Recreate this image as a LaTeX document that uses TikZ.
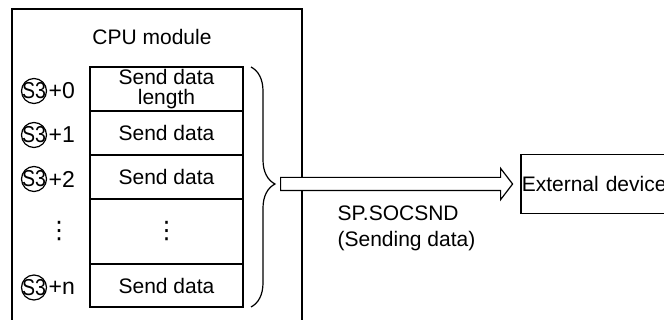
\documentclass[tikz,border=0pt]{standalone}
\usepackage{fontspec}
\setmainfont{Liberation Sans}
\newfontfamily\symfont{DejaVu Sans}
\usetikzlibrary{calc,positioning,shapes.arrows,decorations.pathreplacing}

\begin{document}
\begin{tikzpicture}[x=0.5pt, y=-0.5pt, line width=0.6pt,
  every node/.style={font=\fontsize{10.5}{10}\selectfont},
  cell/.style={draw, minimum width=76.5pt, inner sep=0pt, outer sep=0pt, align=center},
  sref/.style={circle, draw, inner sep=0pt, minimum size=12.5pt},
  stext/.style={inner sep=0pt, font=\fontsize{11.5}{11.5}\selectfont},
  vdot/.style={inner sep=0pt, font=\symfont\fontsize{12}{12}\selectfont},
  sendarrow/.style={single arrow, draw, fill=white, inner xsep=0pt, inner ysep=3pt,
    minimum height=116pt, single arrow head extend=4.5pt,
    single arrow tip angle=105, anchor=tail}]

\useasboundingbox (0,0) rectangle (664,320);

% CPU module frame (open at the bottom)
\draw (12,322) |- (302,9) -- (302,322);
\node (cpu) at (152,37) {CPU module};

% send data area
\node[cell, minimum height=22pt, anchor=north west] (len) at (90,67) {Send data\\length};
\node[cell, minimum height=22pt, below=0pt of len] (d1) {Send data};
\node[cell, minimum height=22pt, below=0pt of d1] (d2) {Send data};
\node[cell, minimum height=32.5pt, below=0pt of d2] (dots) {};
\node[cell, minimum height=21.5pt, below=0pt of dots] (dn) {Send data};
\node[vdot] (mdots) at (dots.center) {⋮};

% device numbers
\foreach \row/\idx in {len/0, d1/1, d2/2, dn/n}{
  \node[sref] (s\idx) at ($(\row.west)+(-56,2)$) {};
  \node[stext] (t\idx) at (s\idx.center) {\scalebox{0.85}[1]{S3}};
  \node[stext, anchor=west] (o\idx) at ($(s\idx.east)+(1,0)$) {+\idx};
}
\node[vdot] (ldots) at ($(dots.west)+(-31,0)$) {⋮};

% brace and send arrow
\draw[decorate, decoration={brace, amplitude=12pt, aspect=0.4875}]
  ($(len.north east)+(8,0)$) -- ($(dn.south east)+(8,0)$);
\coordinate (btip) at ($(len.north east)!0.4875!(dn.south east)+(32,0)$);
\node[sendarrow] (snd) at ($(btip)+(5,0)$) {};

\node[draw, anchor=west, minimum height=29.5pt, text width=78pt, inner xsep=0.4pt,
  inner ysep=0pt, align=left] (ext) at ($(snd.tip)+(7,0)$) {External device};

\node[anchor=north west, align=left, inner sep=0pt,
  font=\fontsize{10.5}{13}\selectfont] (sndlbl) at ($(snd.tail)+(57,21)$)
  {SP.SOCSND\\(Sending data)};

\end{tikzpicture}
\end{document}
